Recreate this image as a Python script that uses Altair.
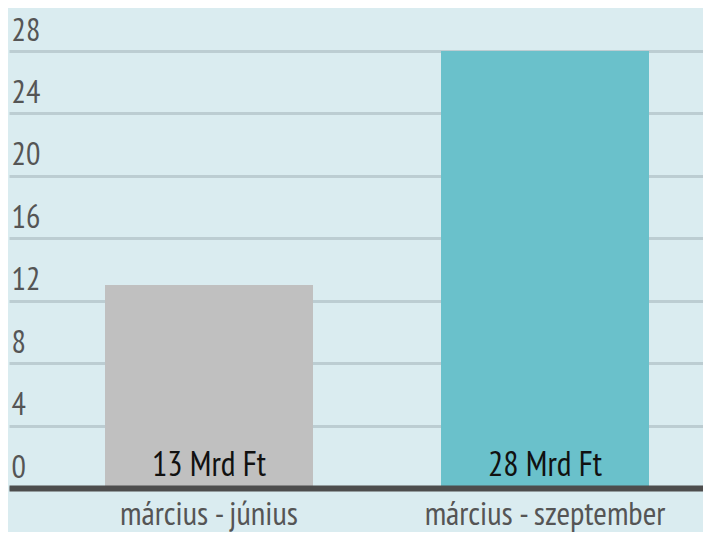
import altair as alt
import pandas as pd

categories = ["március - június", "március - szeptember"]
values = [13, 28]
bar_labels = ["13 Mrd Ft", "28 Mrd Ft"]
bar_colors = ["#c0c0c0", "#6ac1cb"]
y_ticks = [0, 4, 8, 12, 16, 20, 24, 28]

df = pd.DataFrame({"cat": categories, "val": values, "lab": bar_labels, "col": bar_colors})

FONT = "PT Sans Narrow, Liberation Sans Narrow, DejaVu Sans Condensed, sans-serif"

x_enc = alt.X(
    "cat:N",
    sort=categories,
    title=None,
    scale=alt.Scale(paddingInner=0.381, paddingOuter=0.2232, align=0.64),
    axis=alt.Axis(
        labelAngle=0,
        labelFontSize=33,
        labelColor="#555555",
        labelFont=FONT,
        labelPadding=10,
        labelLimit=600,
        ticks=False,
        domainColor="#4d4d4d",
        domainWidth=6,
        grid=False,
        zindex=1,
    ),
)

bars = alt.Chart(df).mark_bar().encode(
    x=x_enc,
    y=alt.Y(
        "val:Q",
        title=None,
        scale=alt.Scale(domain=[0, 28], nice=False),
        axis=alt.Axis(
            values=y_ticks,
            labelAlign="left",
            labelBaseline="alphabetic",
            labelOffset=-11,
            labelPadding=-2,
            labelFontSize=32,
            labelColor="#555555",
            labelFont=FONT,
            ticks=False,
            domain=False,
            gridColor="#bccdd2",
            gridWidth=3,
            gridOpacity=1,
        ),
    ),
    color=alt.Color("col:N", scale=None, legend=None),
)

texts = alt.Chart(df).mark_text(
    baseline="alphabetic", align="center", dy=-12, fontSize=34, font=FONT, color="#111111"
).encode(
    x=alt.X("cat:N", sort=categories),
    y=alt.datum(0),
    text="lab:N",
)

chart = (
    alt.layer(bars, texts)
    .properties(
        width=694,
        height=437,
        padding={"left": 1, "top": 43, "right": 0, "bottom": 44},
        autosize=alt.AutoSizeParams(type="none"),
        background="#daecf0",
    )
    .configure_view(stroke=None, fill="#daecf0")
)

chart.save("out.html", embed_options={"renderer": "svg", "actions": False})
